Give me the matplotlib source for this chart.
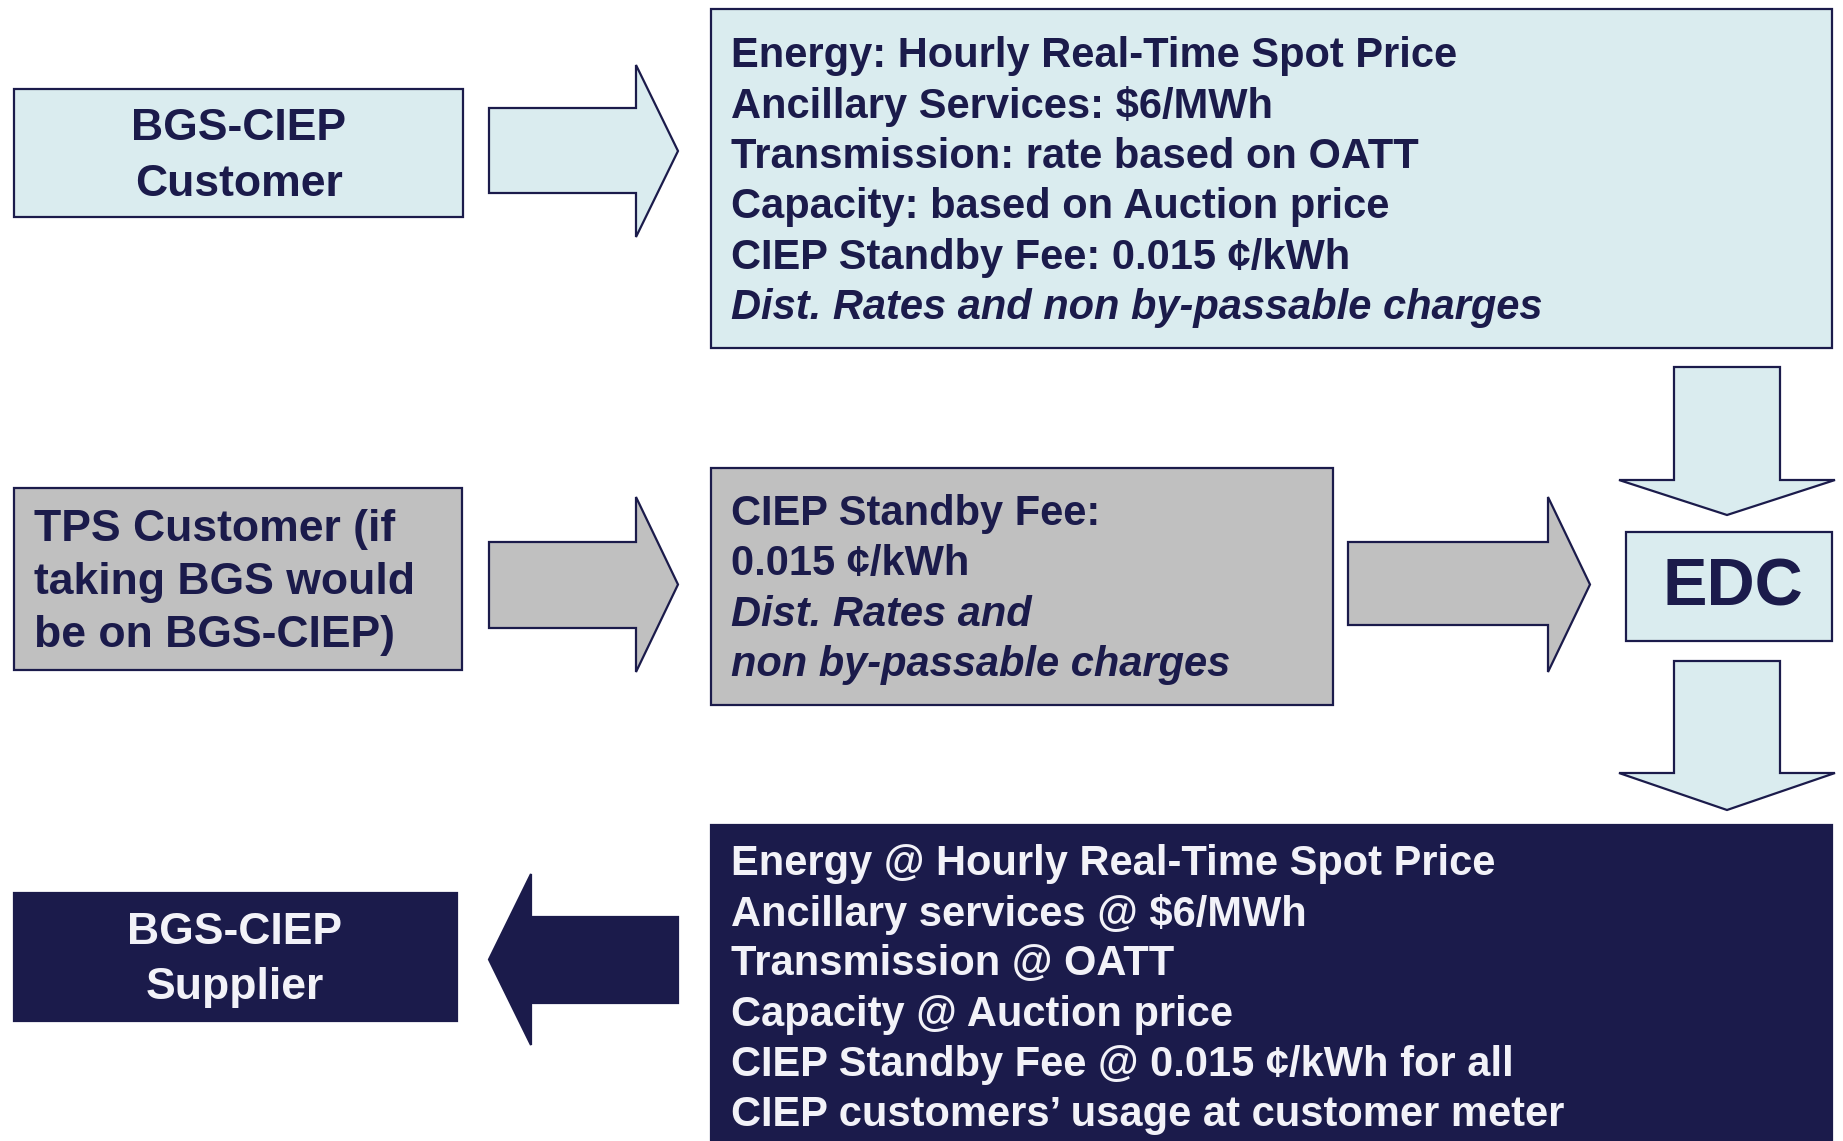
import matplotlib
matplotlib.use("Agg")
import matplotlib.pyplot as plt
from matplotlib.patches import Rectangle, Polygon

plt.rcParams['font.family'] = ['Liberation Sans', 'DejaVu Sans']

# --- text content of the diagram ---
customer_label = ["BGS-CIEP", "Customer"]
tps_label = ["TPS Customer (if", "taking BGS would", "be on BGS-CIEP)"]
supplier_label = ["BGS-CIEP", "Supplier"]
edc_label = "EDC"
bgs_charges = ["Energy: Hourly Real-Time Spot Price",
               "Ancillary Services: $6/MWh",
               "Transmission: rate based on OATT",
               "Capacity: based on Auction price",
               "CIEP Standby Fee: 0.015 \u00a2/kWh",
               "Dist. Rates and non by-passable charges"]
bgs_italic = [False, False, False, False, False, True]
tps_charges = ["CIEP Standby Fee:", "0.015 \u00a2/kWh",
               "Dist. Rates and", "non by-passable charges"]
tps_italic = [False, False, True, True]
supplier_charges = ["Energy @ Hourly Real-Time Spot Price",
                    "Ancillary services @ $6/MWh",
                    "Transmission @ OATT",
                    "Capacity @ Auction price",
                    "CIEP Standby Fee @ 0.015 \u00a2/kWh for all",
                    "CIEP customers\u2019 usage at customer meter"]

LIGHT = '#daecef'
GRAY = '#c0c0c0'
NAVY = '#1b1b4b'
WHITE = '#f2f2f8'
W, H = 1843, 1141

fig = plt.figure(figsize=(W / 100, H / 100), dpi=100)
ax = fig.add_axes([0, 0, 1, 1])
ax.set_xlim(0, W)
ax.set_ylim(H, 0)
ax.axis('off')


def box(x0, y0, x1, y1, fc):
    ax.add_patch(Rectangle((x0, y0), x1 - x0, y1 - y0, fc=fc, ec=NAVY, lw=1.6))


def horiz_arrow(x0, xs, xt, ys0, ys1, yh0, yh1, fc):
    # works for both directions: x0 is the tail, xt is the tip
    pts = [(x0, ys0), (xs, ys0), (xs, yh0), (xt, (yh0 + yh1) / 2),
           (xs, yh1), (xs, ys1), (x0, ys1)]
    ax.add_patch(Polygon(pts, closed=True, fc=fc, ec=NAVY, lw=1.6))


def down_arrow(xs0, xs1, xh0, xh1, y0, ys, yt, fc):
    pts = [(xs0, y0), (xs0, ys), (xh0, ys), ((xh0 + xh1) / 2, yt),
           (xh1, ys), (xs1, ys), (xs1, y0)]
    ax.add_patch(Polygon(pts, closed=True, fc=fc, ec=NAVY, lw=1.6))


def lines(x, y0, step, texts, color, ha='left', italic=None, size=30):
    for i, t in enumerate(texts):
        style = 'italic' if italic and italic[i] else 'normal'
        ax.text(x, y0 + i * step, t, ha=ha, va='center', fontsize=size,
                fontweight='bold', style=style, color=color)


# row 1
box(14, 89, 463, 217, LIGHT)
lines(239, 129, 55, customer_label, NAVY, ha='center', size=32)
horiz_arrow(489, 636, 678, 108, 193, 65, 237, LIGHT)
box(711, 9, 1832, 348, LIGHT)
lines(731, 56, 50.4, bgs_charges, NAVY, italic=bgs_italic)

# down arrow to EDC
down_arrow(1674, 1780, 1619, 1835, 367, 480, 515, LIGHT)

# row 2
box(14, 488, 462, 670, GRAY)
lines(34, 529, 53.5, tps_label, NAVY, size=32)
horiz_arrow(489, 636, 678, 542, 628, 497, 672, GRAY)
box(711, 468, 1333, 705, GRAY)
lines(731, 514, 50.4, tps_charges, NAVY, italic=tps_italic)
horiz_arrow(1348, 1548, 1590, 542, 625, 497, 672, GRAY)
box(1626, 532, 1832, 641, LIGHT)
ax.text(1733, 589, edc_label, ha='center', va='center', fontsize=48,
        fontweight='bold', color=NAVY)

# down arrow from EDC
down_arrow(1674, 1780, 1619, 1835, 661, 773, 810, LIGHT)

# row 3
box(711, 825, 1832, 1160, NAVY)
lines(731, 864, 50.2, supplier_charges, WHITE)
horiz_arrow(678, 531, 489, 917, 1003, 874, 1045, NAVY)
box(14, 893, 457, 1021, NAVY)
lines(235, 933, 55, supplier_label, WHITE, ha='center', size=32)

fig.savefig('out.png', dpi=100, facecolor='white')
